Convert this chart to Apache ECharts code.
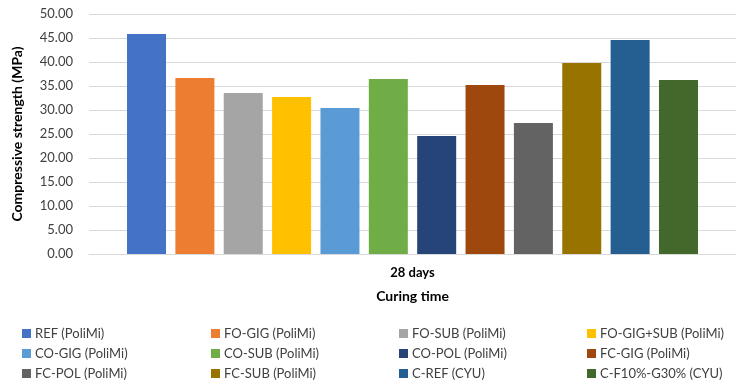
<!DOCTYPE html>
<html>
<head>
<meta charset="utf-8">
<script src="https://cdn.jsdelivr.net/npm/echarts@6/dist/echarts.min.js"></script>
<style>
  html, body { margin: 0; padding: 0; background: #fff; }
  #chart { width: 736px; height: 383px; }
</style>
</head>
<body>
<div id="chart"></div>
<script>
// Compressive strength at 28 days, per mix
const categories = ['28 days'];
const mixes = [
  'REF (PoliMi)', 'FO-GIG (PoliMi)', 'FO-SUB (PoliMi)', 'FO-GIG+SUB (PoliMi)',
  'CO-GIG (PoliMi)', 'CO-SUB (PoliMi)', 'CO-POL (PoliMi)', 'FC-GIG (PoliMi)',
  'FC-POL (PoliMi)', 'FC-SUB (PoliMi)', 'C-REF (CYU)', 'C-F10%-G30% (CYU)'
];
const strength = [45.83, 36.67, 33.54, 32.71, 30.42, 36.46, 24.58, 35.21, 27.29, 39.79, 44.58, 36.25];
const colors = [
  '#4472C4', '#ED7D31', '#A5A5A5', '#FFC000', '#5B9BD5', '#70AD47',
  '#264478', '#9E480E', '#636363', '#997300', '#255E91', '#43682B'
];
const yTicks = { min: 0, max: 50, interval: 5 };

const font = 'Lato, "Open Sans", sans-serif';

const series = mixes.map((name, i) => ({
  name: name,
  type: 'bar',
  data: [strength[i]],
  barWidth: 39,
  barGap: '24%',
  itemStyle: { color: colors[i] }
}));

// legend laid out as a 4-column, 3-row grid
const colX = [22, 211, 399, 587];
const rowY = [327, 347, 367];
const legends = mixes.map((name, i) => ({
  data: [name],
  left: colX[i % 4],
  top: rowY[Math.floor(i / 4)],
  padding: 0,
  itemWidth: 9,
  itemHeight: 9,
  itemGap: 0,
  icon: 'rect',
  selectedMode: false,
  textStyle: { fontFamily: font, fontSize: 13, color: '#404040', padding: [0, 0, 0, -1] }
}));

const chart = echarts.init(document.getElementById('chart'));
chart.setOption({
  animation: false,
  textStyle: { fontFamily: font },
  grid: { left: 89, right: 0, top: 14, bottom: 129 },
  legend: legends,
  xAxis: {
    type: 'category',
    data: categories,
    name: 'Curing time',
    nameLocation: 'middle',
    nameGap: 35,
    nameTextStyle: { fontFamily: font, fontSize: 14, fontWeight: 'bold', color: '#000' },
    axisLine: { lineStyle: { color: '#D9D9D9' } },
    axisTick: { show: false },
    axisLabel: { fontFamily: font, fontSize: 13, fontWeight: 'bold', color: '#000', margin: 12 }
  },
  yAxis: {
    type: 'value',
    min: yTicks.min,
    max: yTicks.max,
    interval: yTicks.interval,
    name: 'Compressive strength (MPa)',
    nameLocation: 'middle',
    nameGap: 65,
    nameTextStyle: { fontFamily: font, fontSize: 14, fontWeight: 'bold', color: '#000' },
    axisLine: { show: false },
    axisTick: { show: false },
    splitLine: { lineStyle: { color: '#D9D9D9', width: 1 } },
    axisLabel: {
      fontFamily: font, fontSize: 13, color: '#404040', margin: 16,
      formatter: v => v.toFixed(2)
    }
  },
  series: series
});
</script>
</body>
</html>
